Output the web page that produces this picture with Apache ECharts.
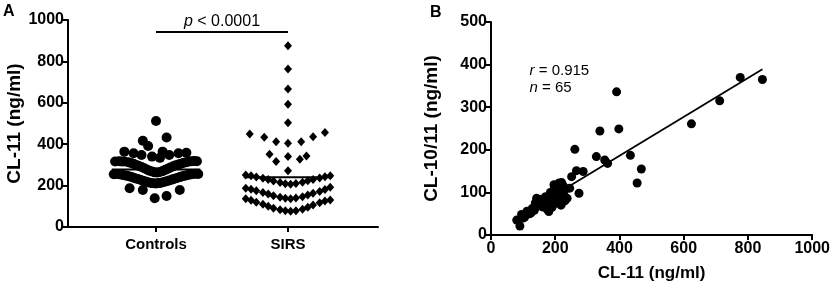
<!DOCTYPE html>
<html><head><meta charset="utf-8">
<script src="https://cdn.jsdelivr.net/npm/echarts@6/dist/echarts.min.js"></script>
<style>html,body{margin:0;padding:0;background:#fff}#c{width:833px;height:291px}</style>
</head><body><div id="c"></div>
<script>
// ---------- Panel A data ----------
var groupNames = ['Controls', 'SIRS'];
var yTicksA = [0, 200, 400, 600, 800, 1000];
// [offset within group (category units), value ng/ml]
var controlsPts = [
  // upper dense arc
  [-0.31,316],[-0.28,318],[-0.26,317],[-0.24,316],[-0.21,313],[-0.19,309],[-0.17,305],[-0.15,300],[-0.13,295],
  [-0.11,290],[-0.09,284],[-0.07,278],[-0.05,272],[-0.03,268],[-0.01,264],[0.01,263],[0.03,266],[0.05,270],
  [0.07,276],[0.09,282],[0.11,288],[0.13,293],[0.15,298],[0.17,302],[0.19,306],[0.21,310],[0.23,313],
  [0.25,316],[0.27,318],[0.29,319],[0.31,318],
  // lower dense arc
  [-0.32,255],[-0.30,256],[-0.28,255],[-0.26,253],[-0.24,250],[-0.22,247],[-0.20,244],[-0.18,240],[-0.16,236],
  [-0.14,232],[-0.12,228],[-0.10,224],[-0.08,220],[-0.06,216],[-0.04,213],[-0.02,211],[0,210],[0.02,212],
  [0.04,214],[0.06,217],[0.08,221],[0.10,225],[0.12,229],[0.14,233],[0.16,237],[0.18,241],[0.20,245],
  [0.22,248],[0.24,251],[0.26,254],[0.28,256],[0.30,257],[0.32,256],
  // row above
  [-0.24,364],[-0.17,356],[-0.11,348],[-0.03,340],[0.03,334],[0.05,364],[0.10,348],[0.17,356],[0.23,359],
  // high values
  [0,512],[-0.10,417],[0.08,432],[-0.06,391],
  // low values
  [-0.20,187],[-0.10,179],[-0.01,139],[0.08,150],[0.18,179]
];
var sirsPts = [
  [0,876],[0,763],[0,667],[0,593],[0,504],
  [-0.29,449],[-0.18,433],[-0.09,412],[0,404],[0.10,412],[0.19,436],[0.28,456],
  [-0.14,351],[-0.09,316],[0,340],[0.09,327],[0.14,343],
  [0,272],
  // band 1
  [-0.32,251],[-0.28,247],[-0.24,242],[-0.19,236],[-0.15,229],[-0.11,222],[-0.06,215],[-0.02,209],
  [0.02,207],[0.06,210],[0.11,216],[0.15,223],[0.19,230],[0.24,237],[0.28,243],[0.32,248],
  // band 2
  [-0.32,187],[-0.28,182],[-0.24,175],[-0.19,167],[-0.15,159],[-0.11,151],[-0.06,144],[-0.02,139],
  [0.02,137],[0.06,140],[0.11,146],[0.15,154],[0.19,163],[0.24,172],[0.28,181],[0.32,192],
  // band 3
  [-0.32,136],[-0.28,129],[-0.24,120],[-0.19,110],[-0.15,100],[-0.11,91],[-0.06,83],[-0.02,78],
  [0.02,76],[0.06,79],[0.11,86],[0.15,95],[0.19,106],[0.24,117],[0.28,126],[0.32,130]
];
var groupMeans = [278, 240];
var meanHalfWidth = 0.335;
var sigBarValue = 942;
var sigText = '< 0.0001';

// ---------- Panel B data ----------
var xTicksB = [0, 200, 400, 600, 800, 1000];
var yTicksB = [0, 100, 200, 300, 400, 500];
var cl11 = [845,776,712,624,391,398,339,434,468,455,328,354,363,261,266,287,251,274,237,220,
  80,90,95,105,112,120,128,135,142,145,150,155,160,165,170,175,180,183,188,192,195,198,200,203,206,210,212,215,218,222,225,228,232,205,190,170,138,125,100,160,196,185,208,230,245];
var cl1011 = [365,370,315,261,336,249,244,187,155,122,184,176,168,201,151,149,137,98,86,123,
  35,21,48,42,56,50,62,58,86,68,76,84,80,72,83,60,55,70,78,95,105,112,88,98,115,82,122,108,70,100,115,92,108,75,65,90,75,52,40,66,118,100,95,80,110];
var fitX = [80, 845];
var fitY = [40, 389];
var rText = '= 0.915';
var nText = '= 65';

// ---------- build ----------
function toGroup(pts, gi){ return pts.map(function(p){ return [gi + 1 + p[0], p[1]]; }); }
var FONT = 'Liberation Sans, Arial, Helvetica, sans-serif';
var plain = function(v){ return String(v); };
var axisLine = {show:true, lineStyle:{color:'#000', width:2}};
var axisTick = {show:true, length:5, lineStyle:{color:'#000', width:2}};
var axisLabel = {color:'#000', fontSize:16, fontWeight:'bold', fontFamily:FONT, margin:4, formatter:plain};
var yNameStyle = {color:'#000', fontSize:19, fontWeight:'bold', fontFamily:FONT};
var xNameStyle = {color:'#000', fontSize:17, fontWeight:'bold', fontFamily:FONT};

var chart = echarts.init(document.getElementById('c'), null, {renderer:'canvas'});
var option = {
  animation:false,
  backgroundColor:'#fff',
  grid:[
    {left:68, top:20, width:310, height:207},
    {left:491, top:22, width:322, height:213}
  ],
  xAxis:[
    {gridIndex:0, type:'value', min:0.333, max:2.682,
     axisLine:axisLine,
     axisTick:{show:true, length:5, lineStyle:{color:'#000', width:2}, customValues:[1,2]},
     axisLabel:{color:'#000', fontSize:15, fontWeight:'bold', fontFamily:FONT, margin:10, customValues:[1,2],
       formatter:function(v){ return groupNames[Math.round(v)-1] || ''; }},
     splitLine:{show:false}},
    {gridIndex:1, type:'value', min:xTicksB[0], max:xTicksB[xTicksB.length-1], interval:200,
     axisLine:axisLine, axisTick:axisTick, axisLabel:Object.assign({}, axisLabel, {margin:6}), splitLine:{show:false},
     name:'CL-11 (ng/ml)', nameLocation:'middle', nameGap:30, nameTextStyle:xNameStyle}
  ],
  yAxis:[
    {gridIndex:0, type:'value', min:yTicksA[0], max:yTicksA[yTicksA.length-1], interval:200,
     axisLine:axisLine, axisTick:axisTick, axisLabel:axisLabel, splitLine:{show:false},
     name:'CL-11 (ng/ml)', nameLocation:'middle', nameGap:44, nameTextStyle:yNameStyle},
    {gridIndex:1, type:'value', min:yTicksB[0], max:yTicksB[yTicksB.length-1], interval:100,
     axisLine:axisLine, axisTick:axisTick, axisLabel:axisLabel, splitLine:{show:false},
     name:'CL-10/11 (ng/ml)', nameLocation:'middle', nameGap:50, nameTextStyle:yNameStyle}
  ],
  series:[
    {type:'scatter', xAxisIndex:0, yAxisIndex:0, symbol:'circle', symbolSize:10,
     itemStyle:{color:'#000', opacity:1}, data:toGroup(controlsPts,0), silent:true},
    {type:'scatter', xAxisIndex:0, yAxisIndex:0, symbol:'diamond', symbolSize:[8,9],
     itemStyle:{color:'#000', opacity:1}, data:toGroup(sirsPts,1), silent:true},
    {type:'line', xAxisIndex:0, yAxisIndex:0, symbol:'none', lineStyle:{color:'#000', width:2},
     data:[[1-meanHalfWidth, groupMeans[0]],[1+meanHalfWidth, groupMeans[0]]], z:5},
    {type:'line', xAxisIndex:0, yAxisIndex:0, symbol:'none', lineStyle:{color:'#000', width:2},
     data:[[2-meanHalfWidth, groupMeans[1]],[2+meanHalfWidth, groupMeans[1]]], z:5},
    {type:'line', xAxisIndex:0, yAxisIndex:0, symbol:'none', lineStyle:{color:'#000', width:2},
     data:[[1, sigBarValue],[2, sigBarValue]], clip:false},
    {type:'scatter', xAxisIndex:1, yAxisIndex:1, symbol:'circle', symbolSize:9,
     itemStyle:{color:'#000', opacity:1}, data:cl11.map(function(x,i){return [x, cl1011[i]];}), silent:true},
    {type:'line', xAxisIndex:1, yAxisIndex:1, symbol:'none', lineStyle:{color:'#000', width:1.8},
     data:fitX.map(function(x,i){return [x, fitY[i]];}), z:5}
  ]
};
chart.setOption(option);

var sigP = chart.convertToPixel({xAxisIndex:0, yAxisIndex:0}, [1.5, sigBarValue]);
var rP = chart.convertToPixel({xAxisIndex:1, yAxisIndex:1}, [120, 385]);
var nP = chart.convertToPixel({xAxisIndex:1, yAxisIndex:1}, [120, 345]);
chart.setOption({graphic:[
  {type:'text', left:3, top:4, style:{text:'A', fill:'#000', fontSize:16, fontWeight:'bold', fontFamily:FONT}},
  {type:'text', left:430, top:5, style:{text:'B', fill:'#000', fontSize:16, fontWeight:'bold', fontFamily:FONT}},
  {type:'text', x:sigP[0], y:sigP[1]-2, style:{text:'{i|p} ' + sigText, fill:'#000', fontSize:16, fontFamily:FONT,
     align:'center', verticalAlign:'bottom', rich:{i:{fontStyle:'italic', fontSize:16, fontFamily:FONT, fill:'#000'}}}},
  {type:'text', x:rP[0], y:rP[1], style:{text:'{i|r} ' + rText, fill:'#000', fontSize:15, fontFamily:FONT,
     align:'left', verticalAlign:'middle', rich:{i:{fontStyle:'italic', fontSize:15, fontFamily:FONT, fill:'#000'}}}},
  {type:'text', x:nP[0], y:nP[1], style:{text:'{i|n} ' + nText, fill:'#000', fontSize:15, fontFamily:FONT,
     align:'left', verticalAlign:'middle', rich:{i:{fontStyle:'italic', fontSize:15, fontFamily:FONT, fill:'#000'}}}}
]});
</script></body></html>
